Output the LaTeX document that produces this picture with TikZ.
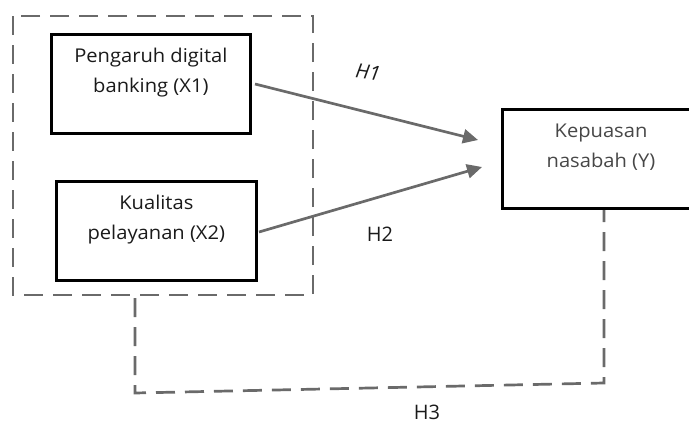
\documentclass[tikz,border=0pt]{standalone}
\usepackage{fontspec}
\setmainfont{Open Sans}
\usetikzlibrary{arrows.meta}
\definecolor{linegray}{HTML}{6A6A6A}
\definecolor{txtdark}{HTML}{1A1A1A}
\definecolor{txtgray}{HTML}{474747}
\begin{document}
\begin{tikzpicture}[x=1pt,y=-1pt,
  varbox/.style={draw=black,line width=2.7pt,inner sep=0pt,anchor=north west},
  boxtext/.style={align=center,font=\fontsize{19}{30}\selectfont,text=txtdark,anchor=north,xscale=1.06},
  groupline/.style={draw=linegray,line width=2.7pt,dash pattern=on 19pt off 10pt},
  pathline/.style={draw=linegray,line width=2.7pt,-{Triangle[length=15pt,width=14pt]}},
  hyp/.style={font=\fontsize{20}{22}\selectfont,text=txtdark}]
\useasboundingbox (0,0) rectangle (689,423);
% group of the two independent variables
\draw[groupline] (13,16) rectangle (313,295);
% variable boxes
\node[varbox,minimum width=199pt,minimum height=99pt] (x1) at (50,33) {};
\node[varbox,minimum width=200pt,minimum height=99pt] (x2) at (55,180) {};
\node[varbox,minimum width=210pt,minimum height=99pt] (y) at (501,108) {};
\node[boxtext] (x1t) at ([yshift=-12pt]x1.north) {Pengaruh digital\\banking (X1)};
\node[boxtext] (x2t) at ([yshift=-12pt]x2.north) {Kualitas\\pelayanan (X2)};
\node[boxtext,text=txtgray] (yt) at (601,120) {Kepuasan\\nasabah (Y)};
% direct paths
\coordinate (a1s) at (255,84);
\coordinate (a1e) at (478,140);
\coordinate (a2s) at (259,232);
\coordinate (a2e) at (482,167);
\draw[pathline] (a1s) -- (a1e);
\draw[pathline] (a2s) -- (a2e);
% joint path
\coordinate (h3a) at (135,298);
\coordinate (h3b) at (135,393);
\coordinate (h3c) at (604,383);
\coordinate (h3d) at (604,210);
\draw[groupline] (h3a) -- (h3b) -- (h3c) -- (h3d);
% hypothesis labels
\node[hyp,rotate=-8,font=\fontsize{20}{22}\selectfont\itshape] (h1) at (368,72) {H1};
\node[hyp] (h2) at (380,234) {H2};
\node[hyp] (h3) at (427,412) {H3};
\end{tikzpicture}
\end{document}
